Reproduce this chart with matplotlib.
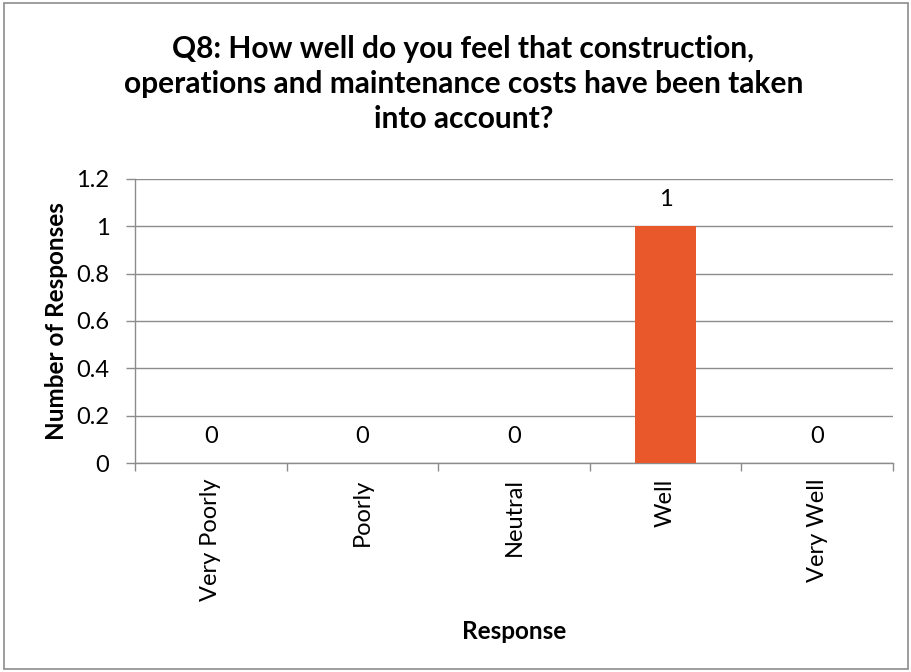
import matplotlib
matplotlib.use("Agg")
import matplotlib.pyplot as plt
from matplotlib.patches import Rectangle

categories = ["Very Poorly", "Poorly", "Neutral", "Well", "Very Well"]
counts = [0, 0, 0, 1, 0]
yticks = [0, 0.2, 0.4, 0.6, 0.8, 1, 1.2]
ytick_labels = ["0", "0.2", "0.4", "0.6", "0.8", "1", "1.2"]

BAR = "#E8582B"
GRID = "#8C8C8C"
FONT = ["Lato", "DejaVu Sans"]

fig = plt.figure(figsize=(9.12, 6.72), dpi=100)
fig.patches.append(Rectangle((0.004, 0.005), 0.992, 0.99, transform=fig.transFigure,
                             fill=False, edgecolor="#8C8C8C", linewidth=1.2))

ax = fig.add_axes([0.148, 0.311, 0.831, 0.423])
x = range(len(categories))
ax.bar(x, counts, width=0.40, color=BAR, zorder=3)
for xi, v in zip(x, counts):
    ax.annotate(f"{v:g}", (xi, v), xytext=(0, 19), textcoords="offset points",
                ha="center", va="center", fontsize=17, family=FONT)

ax.set_xlim(-0.5, len(categories) - 0.5)
ax.set_ylim(0, 1.2)
ax.set_yticks(yticks)
ax.set_yticklabels(ytick_labels, fontsize=17, family=FONT)
ax.yaxis.grid(True, color=GRID, linewidth=1, zorder=0)
ax.set_axisbelow(True)

ax.set_xticks(list(x))
ax.set_xticklabels(categories, rotation=90, fontsize=17, family=FONT)
ax.tick_params(axis="x", length=0, pad=11)
ax.set_xticks([i - 0.5 for i in range(len(categories) + 1)], minor=True)
ax.tick_params(axis="x", which="minor", length=6, color=GRID, width=1)
ax.tick_params(axis="y", length=6.5, color=GRID, width=1, pad=12)

for s in ["top", "right"]:
    ax.spines[s].set_visible(False)
for s in ["left", "bottom"]:
    ax.spines[s].set_color(GRID)
    ax.spines[s].set_linewidth(1)

ax.set_ylabel("Number of Responses", fontsize=17.5, fontweight="bold", family=FONT, labelpad=6)
ax.set_xlabel("Response", fontsize=17.5, fontweight="bold", family=FONT, labelpad=14)

fig.text(0.508, 0.948, "Q8: How well do you feel that construction,\n"
         "operations and maintenance costs have been taken\ninto account?",
         ha="center", va="top", fontsize=21.5, fontweight="bold", family=FONT,
         linespacing=1.3)

fig.savefig("out.png", dpi=100)
